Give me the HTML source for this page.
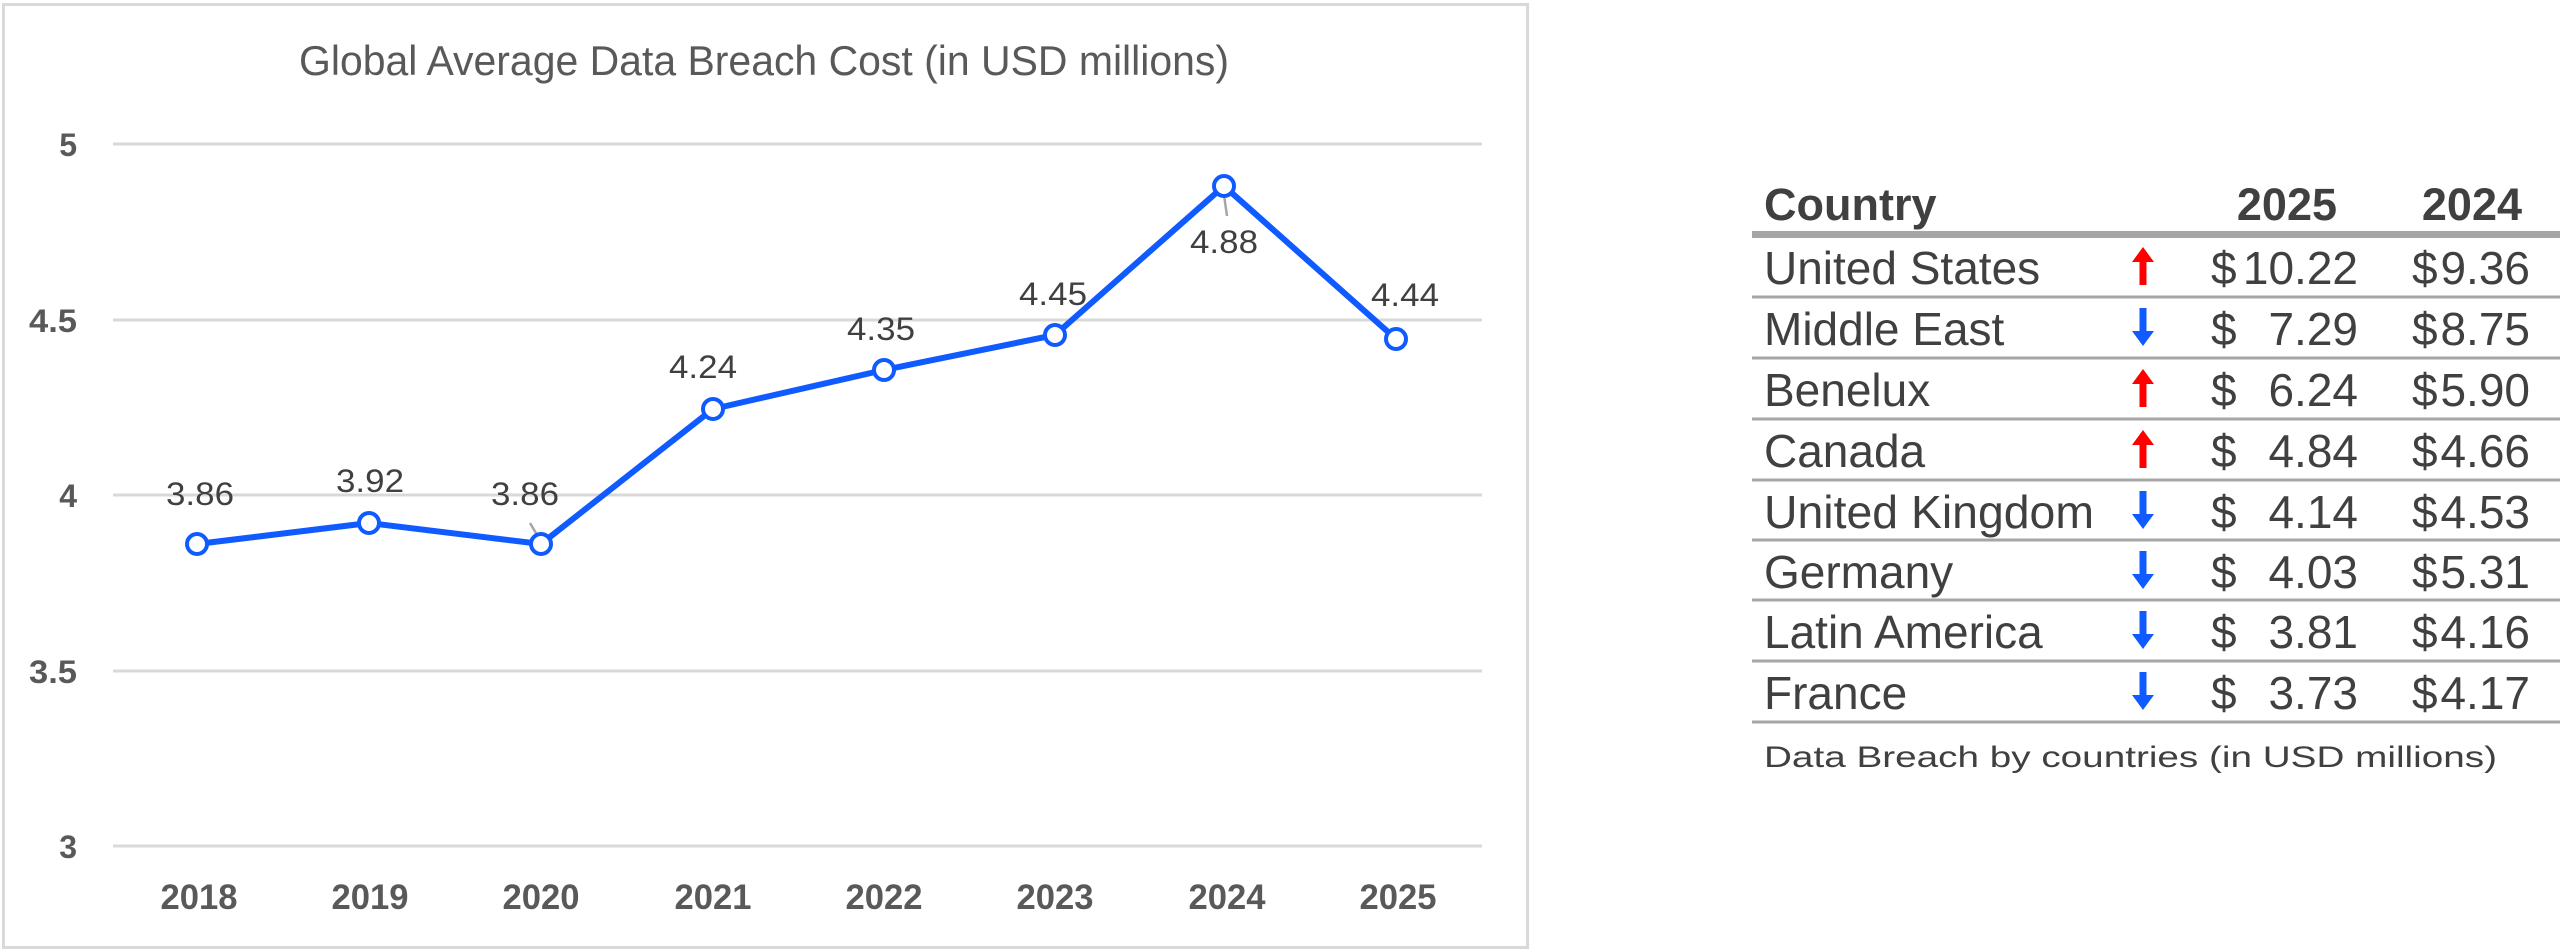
<!DOCTYPE html>
<html><head><meta charset="utf-8"><style>
html,body{margin:0;padding:0;background:#fff;}
svg{display:block;}
</style></head><body>
<svg width="2560" height="952" viewBox="0 0 2560 952" xmlns="http://www.w3.org/2000/svg" font-family="Liberation Sans, Arial, sans-serif">
<rect x="0" y="0" width="2560" height="952" fill="#fff"/>
<rect x="3.5" y="4.5" width="1524" height="943" fill="none" stroke="#d9d9d9" stroke-width="3"/>
<text x="764" y="75" text-anchor="middle" font-size="42" fill="#595959" textLength="930" lengthAdjust="spacingAndGlyphs">Global Average Data Breach Cost (in USD millions)</text>
<g stroke="#d9d9d9" stroke-width="3">
<line x1="113" y1="144" x2="1482" y2="144"/>
<line x1="113" y1="320" x2="1482" y2="320"/>
<line x1="113" y1="495" x2="1482" y2="495"/>
<line x1="113" y1="671" x2="1482" y2="671"/>
<line x1="113" y1="846" x2="1482" y2="846"/>
</g>
<g font-size="32" font-weight="bold" fill="#595959" text-anchor="end">
<text x="77" y="156">5</text>
<text x="77" y="332" textLength="48" lengthAdjust="spacingAndGlyphs">4.5</text>
<text x="77" y="507">4</text>
<text x="77" y="683" textLength="48" lengthAdjust="spacingAndGlyphs">3.5</text>
<text x="77" y="858">3</text>
</g>
<g font-size="35" font-weight="bold" fill="#595959" text-anchor="middle">
<text x="199" y="909" textLength="77" lengthAdjust="spacingAndGlyphs">2018</text>
<text x="370" y="909" textLength="77" lengthAdjust="spacingAndGlyphs">2019</text>
<text x="541" y="909" textLength="77" lengthAdjust="spacingAndGlyphs">2020</text>
<text x="713" y="909" textLength="77" lengthAdjust="spacingAndGlyphs">2021</text>
<text x="884" y="909" textLength="77" lengthAdjust="spacingAndGlyphs">2022</text>
<text x="1055" y="909" textLength="77" lengthAdjust="spacingAndGlyphs">2023</text>
<text x="1227" y="909" textLength="77" lengthAdjust="spacingAndGlyphs">2024</text>
<text x="1398" y="909" textLength="77" lengthAdjust="spacingAndGlyphs">2025</text>
</g>
<g stroke="#a6a6a6" stroke-width="2.5">
<line x1="530" y1="523" x2="540" y2="540"/>
<line x1="1223" y1="188" x2="1227" y2="216"/>
</g>
<polyline fill="none" stroke="#0f5bff" stroke-width="6" stroke-linejoin="round"
 points="197,544 369,523 541,544 713,409 884,370 1055,335 1224,186 1396,339"/>
<g fill="#fff" stroke="#0f5bff" stroke-width="4">
<circle cx="197" cy="544" r="10"/>
<circle cx="369" cy="523" r="10"/>
<circle cx="541" cy="544" r="10"/>
<circle cx="713" cy="409" r="10"/>
<circle cx="884" cy="370" r="10"/>
<circle cx="1055" cy="335" r="10"/>
<circle cx="1224" cy="186" r="10"/>
<circle cx="1396" cy="339" r="10"/>
</g>
<g font-size="32" fill="#404040" text-anchor="middle">
<text x="200" y="505" textLength="68" lengthAdjust="spacingAndGlyphs">3.86</text>
<text x="370" y="492" textLength="68" lengthAdjust="spacingAndGlyphs">3.92</text>
<text x="525" y="505" textLength="68" lengthAdjust="spacingAndGlyphs">3.86</text>
<text x="703" y="378" textLength="68" lengthAdjust="spacingAndGlyphs">4.24</text>
<text x="881" y="340" textLength="68" lengthAdjust="spacingAndGlyphs">4.35</text>
<text x="1053" y="305" textLength="68" lengthAdjust="spacingAndGlyphs">4.45</text>
<text x="1224" y="253" textLength="68" lengthAdjust="spacingAndGlyphs">4.88</text>
<text x="1405" y="306" textLength="68" lengthAdjust="spacingAndGlyphs">4.44</text>
</g>

<g font-size="45" font-weight="bold" fill="#404040">
<text x="1764" y="220">Country</text>
<text x="2337" y="220" text-anchor="end">2025</text>
<text x="2522" y="220" text-anchor="end">2024</text>
</g>
<rect x="1752" y="231" width="808" height="7" fill="#a6a6a6"/>
<g fill="#a6a6a6">
<rect x="1752" y="295.5" width="808" height="3"/>
<rect x="1752" y="356.5" width="808" height="3"/>
<rect x="1752" y="417.5" width="808" height="3"/>
<rect x="1752" y="478.5" width="808" height="3"/>
<rect x="1752" y="538.5" width="808" height="3"/>
<rect x="1752" y="598.5" width="808" height="3"/>
<rect x="1752" y="659.5" width="808" height="3"/>
<rect x="1752" y="720.5" width="808" height="3"/>
</g>
<defs>
<path id="up" d="M0,-19 L11,-4 L3.5,-4 L3.5,19 L-3.5,19 L-3.5,-4 L-11,-4 Z"/>
<path id="dn" d="M0,19 L11,4 L3.5,4 L3.5,-19 L-3.5,-19 L-3.5,4 L-11,4 Z"/>
</defs>
<g font-size="46" fill="#404040">
<text x="1764" y="284">United States</text>
<text x="1764" y="345">Middle East</text>
<text x="1764" y="406">Benelux</text>
<text x="1764" y="467">Canada</text>
<text x="1764" y="528" textLength="330" lengthAdjust="spacingAndGlyphs">United Kingdom</text>
<text x="1764" y="588">Germany</text>
<text x="1764" y="648">Latin America</text>
<text x="1764" y="709">France</text>

<text x="2211" y="284">$</text><text x="2358" y="284" text-anchor="end">10.22</text><text x="2412" y="284">$</text><text x="2530" y="284" text-anchor="end">9.36</text>
<text x="2211" y="345">$</text><text x="2358" y="345" text-anchor="end">7.29</text><text x="2412" y="345">$</text><text x="2530" y="345" text-anchor="end">8.75</text>
<text x="2211" y="406">$</text><text x="2358" y="406" text-anchor="end">6.24</text><text x="2412" y="406">$</text><text x="2530" y="406" text-anchor="end">5.90</text>
<text x="2211" y="467">$</text><text x="2358" y="467" text-anchor="end">4.84</text><text x="2412" y="467">$</text><text x="2530" y="467" text-anchor="end">4.66</text>
<text x="2211" y="528">$</text><text x="2358" y="528" text-anchor="end">4.14</text><text x="2412" y="528">$</text><text x="2530" y="528" text-anchor="end">4.53</text>
<text x="2211" y="588">$</text><text x="2358" y="588" text-anchor="end">4.03</text><text x="2412" y="588">$</text><text x="2530" y="588" text-anchor="end">5.31</text>
<text x="2211" y="648">$</text><text x="2358" y="648" text-anchor="end">3.81</text><text x="2412" y="648">$</text><text x="2530" y="648" text-anchor="end">4.16</text>
<text x="2211" y="709">$</text><text x="2358" y="709" text-anchor="end">3.73</text><text x="2412" y="709">$</text><text x="2530" y="709" text-anchor="end">4.17</text>
</g>
<use href="#up" x="2143" y="266" fill="#ff0000"/>
<use href="#dn" x="2143" y="327" fill="#0f5bff"/>
<use href="#up" x="2143" y="388" fill="#ff0000"/>
<use href="#up" x="2143" y="449" fill="#ff0000"/>
<use href="#dn" x="2143" y="510" fill="#0f5bff"/>
<use href="#dn" x="2143" y="570" fill="#0f5bff"/>
<use href="#dn" x="2143" y="630" fill="#0f5bff"/>
<use href="#dn" x="2143" y="691" fill="#0f5bff"/>
<text x="1764" y="767" font-size="30" fill="#404040" textLength="733" lengthAdjust="spacingAndGlyphs">Data Breach by countries (in USD millions)</text>
</svg>
</body></html>
